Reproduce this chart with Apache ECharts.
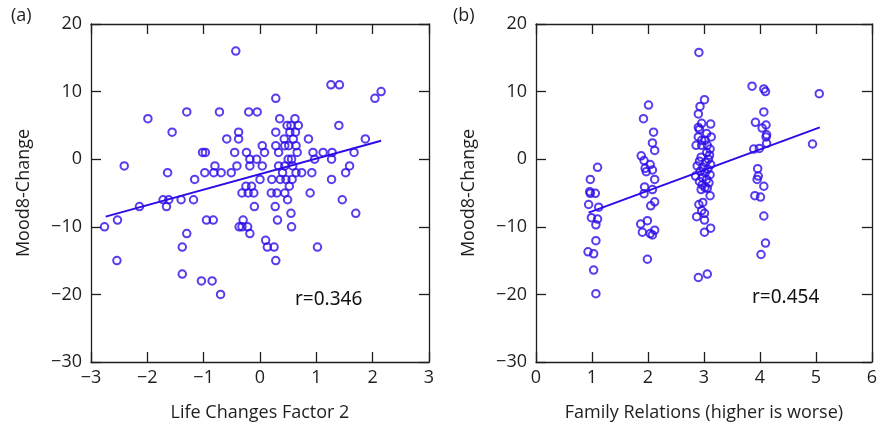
<!DOCTYPE html>
<html>
<head>
<meta charset="utf-8">
<script src="https://cdn.jsdelivr.net/npm/echarts@6/dist/echarts.min.js"></script>
<style>
  html, body { margin: 0; padding: 0; background: #fff; }
  #chart { width: 880px; height: 427px; }
</style>
</head>
<body>
<div id="chart"></div>
<script>
// panel (a): Life Changes Factor 2 vs Mood8-Change
const lifeX = [-0.43,-1.99,-1.30,-0.72,-0.20,-0.05,-1.56,-0.38,-0.59,-0.38,0.04,-1.02,-0.97,-0.45,-0.24,0.08,-0.18,-0.06,
  -2.41,-0.80,-0.41,-0.18,0.04,-1.64,-0.98,-0.82,-0.69,-0.51,-1.16,0.00,-0.25,-0.15,
  1.26,1.41,0.28,2.04,2.15,0.35,0.62,0.48,0.55,0.68,1.40,0.28,0.53,0.63,0.43,0.59,0.86,1.87,0.28,0.44,0.51,0.64,
  0.33,0.66,0.94,1.12,1.28,1.67,0.50,0.56,0.97,1.27,0.33,0.44,0.58,1.59,0.40,0.64,0.74,0.92,1.52,
  0.21,0.36,0.46,0.57,1.27,0.52,
  -0.32,-0.21,-0.11,-2.14,-1.72,-1.62,-1.66,-1.40,-1.18,-2.53,-2.76,-0.95,-0.83,-1.30,-1.38,-2.54,-1.38,-1.04,-0.85,-0.70,
  -0.37,-0.32,-0.22,-0.30,-0.18,-0.10,0.10,0.13,
  0.20,0.30,0.44,0.89,0.49,1.46,0.27,0.55,1.70,0.31,0.56,0.25,1.02,0.28];
const lifeMood = [16,6,7,7,7,7,4,4,3,3,2,1,1,1,1,1,0,0,
  -1,-1,-1,-1,-1,-2,-2,-2,-2,-2,-3,-3,-4,-4,
  11,11,9,9,10,6,6,5,5,5,5,4,4,4,3,3,3,3,2,2,2,2,
  1,1,1,1,1,1,0,0,0,0,-1,-1,-1,-1,-2,-2,-2,-2,-2,
  -3,-3,-3,-3,-3,-4,
  -5,-5,-5,-7,-6,-6,-7,-6,-6,-9,-10,-9,-9,-11,-13,-15,-17,-18,-18,-20,
  -10,-10,-10,-9,-11,-7,-12,-13,
  -5,-5,-5,-5,-6,-6,-7,-8,-8,-9,-10,-13,-13,-15];
const lifeFitX = [-2.74, 2.15];
const lifeFitY = [-8.5, 2.74];

// panel (b): Family Relations vs Mood8-Change
const famX = [1.10,0.97,0.96,0.97,1.06,0.94,1.12,0.99,1.10,1.07,1.07,0.93,1.03,1.03,1.07,
  2.01,1.92,2.10,2.08,2.12,1.88,1.93,2.04,1.95,1.97,2.08,2.12,1.94,2.08,1.93,2.05,2.12,1.87,1.99,1.90,2.04,2.08,2.12,1.99,
  2.91,3.01,2.93,2.90,2.96,3.12,2.90,2.92,3.05,2.90,3.13,2.96,3.02,2.86,2.96,3.06,3.11,
  3.05,3.10,2.95,3.08,2.92,3.03,3.12,2.88,2.98,3.07,2.93,3.02,3.11,2.85,2.97,3.05,2.92,3.09,2.97,3.02,2.95,3.06,
  3.11,2.98,2.91,2.96,3.01,2.87,3.01,3.12,3.01,2.90,3.06,
  3.86,4.07,4.10,4.07,3.92,4.11,4.04,4.12,4.11,4.12,3.89,3.99,3.96,3.97,3.95,4.07,3.91,4.01,4.07,4.10,4.02,
  5.06,4.94];
const famMood = [-1.2,-3.0,-4.8,-5.05,-5.05,-6.7,-7.1,-8.65,-8.85,-9.7,-12.05,-13.7,-14.0,-16.4,-19.9,
  8.0,6.0,4.0,2.4,1.3,0.5,-0.2,-0.8,-1.35,-1.85,-1.6,-3.0,-4.1,-4.5,-5.1,-6.9,-6.3,-9.6,-9.1,-10.8,-11.0,-11.2,-10.5,-14.8,
  15.8,8.8,7.8,6.7,5.3,5.2,4.7,4.4,3.8,3.3,3.3,2.8,2.8,2.05,2.05,2.05,1.5,
  1.0,0.6,0.3,0.0,-0.3,-0.5,-0.8,-1.0,-1.2,-1.5,-1.8,-2.0,-2.3,-2.5,-2.7,-3.0,-3.3,-3.5,-3.8,-4.2,-4.5,-4.3,
  -5.4,-6.4,-6.7,-7.6,-8.0,-8.5,-9.0,-10.2,-10.8,-17.5,-17.0,
  10.8,10.4,10.0,7.0,5.45,5.06,4.6,3.6,3.3,2.35,1.5,1.6,-1.4,-2.5,-3.0,-4.0,-5.4,-5.6,-8.4,-12.4,-14.1,
  9.7,2.25];
const famFitX = [0.94, 5.07];
const famFitY = [-7.9, 4.7];

const panelLetters = ['(a)', '(b)'];
const xNames = ['Life Changes Factor 2', 'Family Relations (higher is worse)'];
const yName = 'Mood8-Change';
const rLabels = ['r=0.346', 'r=0.454'];

const blue = '#2c0ce8';
const ink = '#1e1e1e';
const font = 'Open Sans';
const fmt = v => (v < 0 ? '\u2212' + Math.abs(v) : String(v));
const zip = (a, b) => a.map((v, i) => [v, b[i]]);

const chart = echarts.init(document.getElementById('chart'));

const grids = [
  { left: 91, top: 24, width: 338, height: 338 },
  { left: 536, top: 24, width: 339, height: 338 }
];
const xRanges = [[-3, 3], [0, 6]];

const xAxis = [], yAxis = [];
grids.forEach((g, i) => {
  const lineStyle = { color: ink, width: 1.3 };
  xAxis.push({
    gridIndex: i, type: 'value', min: xRanges[i][0], max: xRanges[i][1], interval: 1,
    name: xNames[i], nameLocation: 'middle', nameGap: 42,
    nameTextStyle: { fontFamily: font, fontSize: 18, color: ink },
    axisLine: { onZero: false, lineStyle },
    axisTick: { inside: true, length: 10, lineStyle },
    axisLabel: { formatter: fmt, fontFamily: font, fontSize: 18, color: ink, margin: 7 },
    splitLine: { show: false }
  });
  xAxis.push({
    gridIndex: i, type: 'value', position: 'top', min: xRanges[i][0], max: xRanges[i][1], interval: 1,
    axisLine: { onZero: false, lineStyle },
    axisTick: { inside: true, length: 10, lineStyle },
    axisLabel: { show: false }, splitLine: { show: false }
  });
  yAxis.push({
    gridIndex: i, type: 'value', min: -30, max: 20, interval: 10,
    name: yName, nameLocation: 'middle', nameGap: 58,
    nameTextStyle: { fontFamily: font, fontSize: 18, color: ink },
    axisLine: { onZero: false, lineStyle },
    axisTick: { inside: true, length: 10, lineStyle },
    axisLabel: { formatter: fmt, fontFamily: font, fontSize: 18, color: ink, margin: 9 },
    splitLine: { show: false }
  });
  yAxis.push({
    gridIndex: i, type: 'value', position: 'right', min: -30, max: 20, interval: 10,
    axisLine: { onZero: false, lineStyle },
    axisTick: { inside: true, length: 10, lineStyle },
    axisLabel: { show: false }, splitLine: { show: false }
  });
});

const scatterStyle = {
  type: 'scatter', symbol: 'circle', symbolSize: 7.5,
  itemStyle: { color: 'rgba(0,0,0,0)', borderColor: blue, borderWidth: 2 },
  emphasis: { disabled: true }
};
const fitStyle = {
  type: 'line', showSymbol: false, lineStyle: { color: blue, width: 2 }, silent: true
};

const option = {
  animation: false,
  grid: grids,
  xAxis, yAxis,
  series: [
    { ...scatterStyle, xAxisIndex: 0, yAxisIndex: 0, data: zip(lifeX, lifeMood) },
    { ...fitStyle, xAxisIndex: 0, yAxisIndex: 0, data: zip(lifeFitX, lifeFitY) },
    { ...scatterStyle, xAxisIndex: 2, yAxisIndex: 2, data: zip(famX, famMood) },
    { ...fitStyle, xAxisIndex: 2, yAxisIndex: 2, data: zip(famFitX, famFitY) }
  ],
  graphic: [
    { type: 'text', left: 11, top: 7, style: { text: panelLetters[0], font: '18px "Open Sans"', fill: ink } },
    { type: 'text', left: 453, top: 7, style: { text: panelLetters[1], font: '18px "Open Sans"', fill: ink } },
    { type: 'text', left: 295, top: 290, style: { text: rLabels[0], font: '19px "Noto Sans"', fill: '#111' } },
    { type: 'text', left: 752, top: 288, style: { text: rLabels[1], font: '19px "Noto Sans"', fill: '#111' } }
  ]
};
chart.setOption(option);
</script>
</body>
</html>
